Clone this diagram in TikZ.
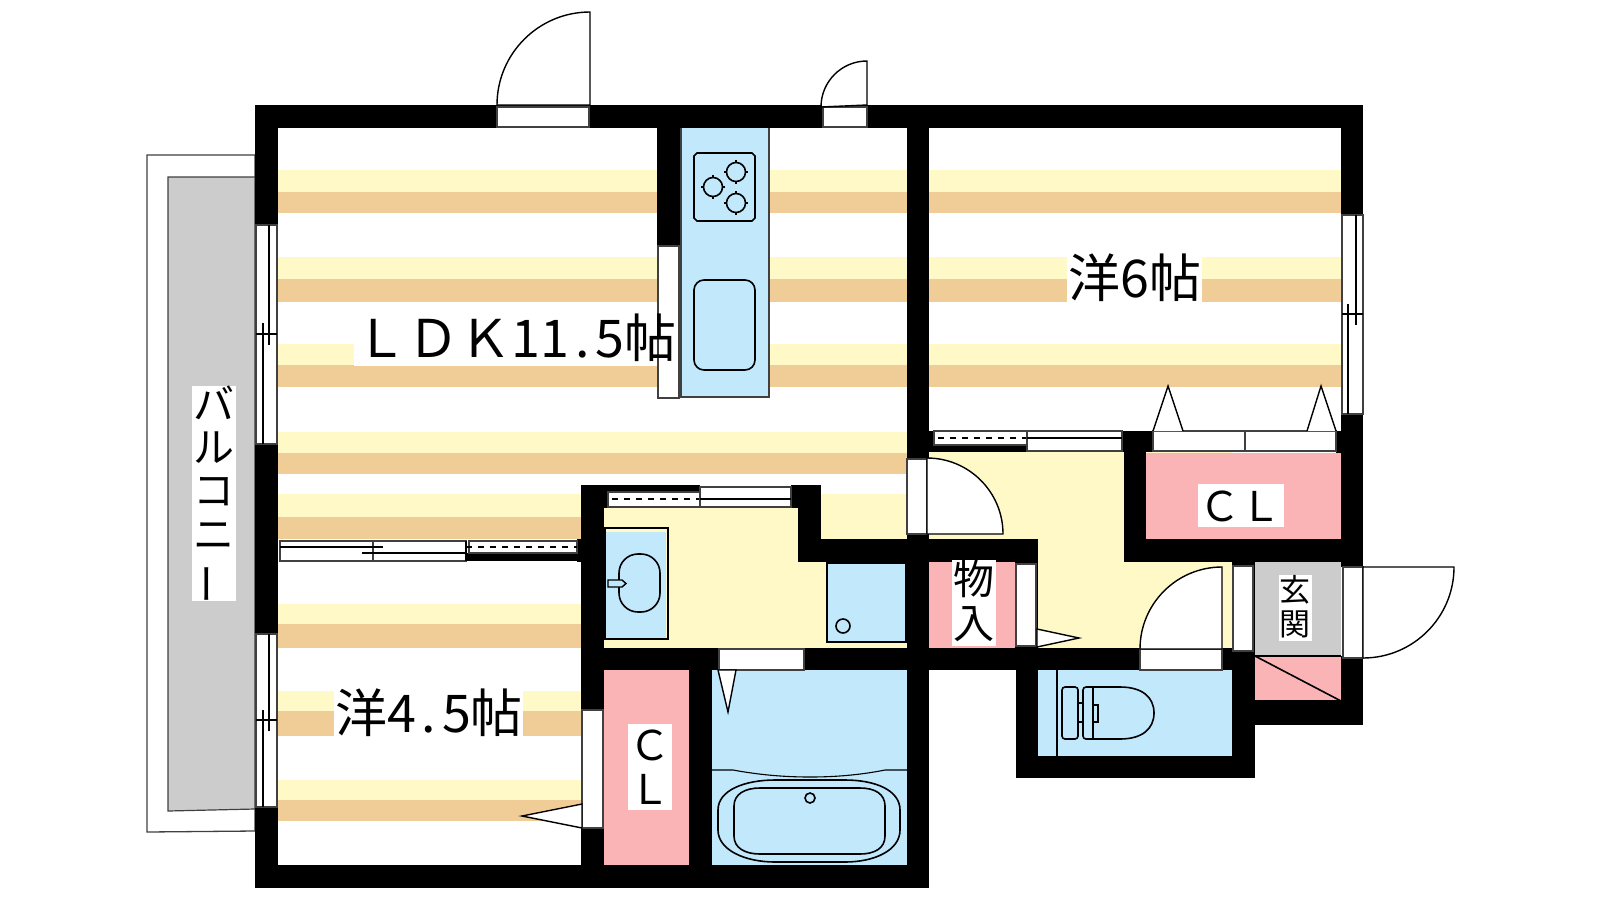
\documentclass[tikz,border=0pt]{standalone}
\usepackage{fontspec}
\newfontfamily\cjkfont{Noto Sans CJK JP}
\definecolor{floorlight}{HTML}{FFF9C8}
\definecolor{floordark}{HTML}{F0CC96}
\definecolor{wetblue}{HTML}{C2E8FB}
\definecolor{closetpink}{HTML}{FBB4B6}
\definecolor{slabgray}{HTML}{CCCCCC}
\newcommand{\burner}[2]{
\draw[railline] ({#1-12},#2) -- ({#1+12},#2);
\draw[railline] (#1,{#2-12}) -- (#1,{#2+12});
\draw[fixture,fill=wetblue] (#1,#2) circle (9.5);
}
\tikzset{
wall/.style={fill=black},
frame/.style={draw=black!75,fill=white,line width=0.65pt},
leaf/.style={draw=black,fill=white,line width=0.7pt},
fixture/.style={draw=black,line width=0.8pt},
railline/.style={draw=black,line width=0.55pt},
bigtext/.style={font=\cjkfont\fontsize{26pt}{30pt}\selectfont,inner sep=0pt},
midtext/.style={font=\cjkfont\fontsize{20.5pt}{21.7pt}\selectfont,inner sep=0pt,align=center},
smalltext/.style={font=\cjkfont\fontsize{15.5pt}{17pt}\selectfont,inner sep=0pt,align=center}
}
\begin{document}
\begin{tikzpicture}[x=0.5pt,y=-0.5pt]
\useasboundingbox (0,0) rectangle (1600,900);

%balcony
\draw[frame] (147,155) -- (255,155) -- (255,831) -- (147,832) -- cycle;
\draw[draw=black!75,fill=slabgray,line width=0.6pt] (168,177) -- (255,177) -- (255,809) -- (168,811) -- cycle;

%floor bands
\fill[floorlight] (278,170) rectangle (907,192);
\fill[floordark] (278,192) rectangle (907,213);
\fill[floorlight] (278,257) rectangle (907,279);
\fill[floordark] (278,279) rectangle (907,302);
\fill[floorlight] (278,344) rectangle (907,365);
\fill[floordark] (278,365) rectangle (907,387);
\fill[floorlight] (278,432) rectangle (907,453);
\fill[floordark] (278,453) rectangle (907,474);
\fill[floorlight] (278,494) rectangle (907,517);
\fill[floordark] (278,517) rectangle (907,539);

\fill[floorlight] (929,170) rectangle (1341,192);
\fill[floordark] (929,192) rectangle (1341,213);
\fill[floorlight] (929,257) rectangle (1341,279);
\fill[floordark] (929,279) rectangle (1341,302);
\fill[floorlight] (929,344) rectangle (1341,365);
\fill[floordark] (929,365) rectangle (1341,387);

\fill[floorlight] (278,604) rectangle (581,624);
\fill[floordark] (278,624) rectangle (581,648);
\fill[floorlight] (278,691) rectangle (581,711);
\fill[floordark] (278,711) rectangle (581,736);
\fill[floorlight] (278,780) rectangle (581,800);
\fill[floordark] (278,800) rectangle (581,821);

%white behind the room names
\fill[white] (354,310) rectangle (658,366);
\fill[white] (1067,250) rectangle (1202,303);
\fill[white] (334,686) rectangle (523,737);

%room fills
\fill[floorlight] (604,508) rectangle (907,648);
\fill[floorlight] (929,452) rectangle (1232,648);
\fill[closetpink] (1146,453) rectangle (1341,539);
\fill[closetpink] (929,562) rectangle (1016,648);
\fill[closetpink] (604,670) rectangle (689,865);
\fill[closetpink] (1255,656) rectangle (1341,700);
\fill[slabgray] (1255,562) rectangle (1341,656);
\fill[wetblue] (712,670) rectangle (907,865);
\fill[wetblue] (1038,670) rectangle (1232,756);

%walls
\fill[wall] (255,105) rectangle (1363,128);
\fill[wall] (255,128) rectangle (278,225);
\fill[wall] (255,444) rectangle (278,634);
\fill[wall] (255,807) rectangle (278,888);
\fill[wall] (255,865) rectangle (929,888);
\fill[wall] (1341,128) rectangle (1363,215);
\fill[wall] (1341,414) rectangle (1363,567);
\fill[wall] (1341,656) rectangle (1363,725);
\fill[wall] (1255,700) rectangle (1363,725);
\fill[wall] (907,128) rectangle (929,459);
\fill[wall] (907,534) rectangle (929,888);
\fill[wall] (657,128) rectangle (681,246);
\fill[wall] (929,431) rectangle (934,452);
\fill[wall] (934,445) rectangle (1027,452);
\fill[wall] (1122,431) rectangle (1153,452);
\fill[wall] (1124,452) rectangle (1146,562);
\fill[wall] (1124,539) rectangle (1363,562);
\fill[wall] (1336,431) rectangle (1341,453);
\fill[wall] (907,539) rectangle (1038,562);
\fill[wall] (1015,562) rectangle (1038,648);
\fill[wall] (581,648) rectangle (1232,670);
\fill[wall] (1016,670) rectangle (1038,778);
\fill[wall] (1016,756) rectangle (1255,778);
\fill[wall] (1232,562) rectangle (1255,778);
\fill[wall] (581,485) rectangle (604,888);
\fill[wall] (577,539) rectangle (581,562);
\fill[wall] (604,485) rectangle (608,508);
\fill[wall] (608,485) rectangle (700,492);
\fill[wall] (791,485) rectangle (821,508);
\fill[wall] (798,485) rectangle (821,562);
\fill[wall] (798,539) rectangle (907,562);
\fill[wall] (689,670) rectangle (712,865);
\fill[wall] (466,553) rectangle (577,561);

%windows
\draw[frame] (256,225) rectangle (277,444);
\draw[railline] (269,225) -- (269,345);
\draw[railline] (263,323) -- (263,444);
\draw[railline] (256,334) -- (277,334);

\draw[frame] (256,634) rectangle (277,807);
\draw[railline] (269,634) -- (269,731);
\draw[railline] (263,710) -- (263,807);
\draw[railline] (256,720) -- (277,720);

\draw[frame] (1342,215) rectangle (1363,414);
\draw[railline] (1356,215) -- (1356,325);
\draw[railline] (1348,304) -- (1348,414);
\draw[railline] (1342,314) -- (1363,314);

%sliding doors
\draw[frame] (280,541) rectangle (373,561);
\draw[frame] (373,541) rectangle (466,561);
\draw[railline] (280,547) -- (383,547);
\draw[railline] (362,553) -- (466,553);
\draw[frame] (469,541) rectangle (577,553);
\draw[railline] (466,541) -- (466,561);
\draw[railline,dashed] (466,547) -- (577,547);

\draw[frame] (608,492) rectangle (700,507);
\draw[railline,dashed] (612,499) -- (700,499);
\draw[frame] (700,487) rectangle (791,507);
\draw[railline] (700,499) -- (791,499);

\draw[frame] (934,431) rectangle (1027,445);
\draw[railline,dashed] (938,438) -- (1027,438);
\draw[frame] (1027,431) rectangle (1122,451);
\draw[railline] (1027,438) -- (1122,438);

%closet doors
\draw[frame] (1153,431) rectangle (1245,451);
\draw[frame] (1245,431) rectangle (1336,451);
\draw[leaf] (1153,431) -- (1168,386) -- (1183,431);
\draw[leaf] (1307,431) -- (1321,386) -- (1336,431);

\draw[frame] (1016,564) rectangle (1036,646);
\draw[leaf] (1037,629) -- (1079,638) -- (1037,647) -- cycle;

\draw[frame] (582,710) rectangle (603,828);
\draw[leaf] (582,804) -- (522,816) -- (582,828) -- cycle;

\draw[frame] (719,649) rectangle (804,670);
\draw[leaf] (718,670) -- (728,712) -- (736,670) -- cycle;

%hinged doors
\draw[frame] (497,107) rectangle (589,127);
\draw[leaf] (590,105) -- (590,12) arc (270:180:93) -- cycle;

\draw[frame] (823,107) rectangle (867,127);
\draw[leaf] (867,105) -- (867,61) arc (270:180:46) -- cycle;

\draw[frame] (907,459) rectangle (927,534);
\draw[leaf] (927,534) -- (1003,534) arc (0:-90:76) -- cycle;

\draw[frame] (1140,649) rectangle (1222,670);
\draw[leaf] (1222,649) -- (1222,567) arc (270:180:82) -- cycle;

\draw[frame] (1233,566) rectangle (1253,651);

\draw[frame] (1343,567) rectangle (1363,658);
\draw[leaf] (1363,567) -- (1454,567) arc (0:90:91) -- cycle;

%kitchen
\fill[wetblue] (681,128) rectangle (769,397);
\draw[frame,fill=none] (681,128) -- (681,397) -- (769,397) -- (769,128);
\draw[frame] (658,246) rectangle (679,398);
\draw[fixture] (697,153) -- (752,153) -- (755,156) -- (755,218) -- (752,221) -- (697,221) -- (694,218) -- (694,156) -- cycle;
\burner{736}{172}
\burner{713}{187}
\burner{736}{203}
\draw[fixture,rounded corners=5pt] (694,280) rectangle (755,370);

%washroom
\fill[wetblue] (605,532) rectangle (666,638);
\draw[draw=black,line width=0.7pt] (605,528) rectangle (668,639);
\draw[fixture,rounded corners=9.5pt] (619,554) rectangle (660,612);
\draw[draw=black,fill=wetblue,line width=0.7pt] (608,580) -- (622,580) -- (626,583.5) -- (622,587) -- (608,587) -- cycle;
\draw[draw=black,fill=wetblue,line width=0.7pt] (827,563) rectangle (906,642);
\draw[fixture] (843,626) circle (7);

%bath
\draw[railline] (712,770) -- (733,770) .. controls (760,775) and (785,777) .. (810,777) .. controls (835,777) and (860,775) .. (885,770) -- (907,770);
\draw[fixture] (718,810) .. controls (718,790) and (745,780) .. (775,780) -- (845,780) .. controls (875,780) and (900,790) .. (900,810) -- (900,830) .. controls (900,850) and (875,862) .. (845,862) -- (775,862) .. controls (745,862) and (718,850) .. (718,830) -- cycle;
\draw[fixture] (734,806) .. controls (734,794) and (745,788) .. (760,788) -- (860,788) .. controls (875,788) and (885,794) .. (885,806) -- (885,836) .. controls (885,848) and (875,854) .. (860,854) -- (760,854) .. controls (745,854) and (734,848) .. (734,836) -- cycle;
\draw[fixture] (810,798) circle (5);

%toilet
\draw[railline] (1057,670) -- (1057,756);
\draw[fixture,rounded corners=1.5pt] (1062,687) rectangle (1078,739);
\draw[railline] (1078,703) -- (1083,703);
\draw[railline] (1078,722) -- (1083,722);
\draw[railline] (1093,687) -- (1093,739);
\draw[railline] (1093,705) -- (1098,705) -- (1098,722) -- (1093,722);
\draw[fixture,rounded corners=1.5pt] (1093,687) -- (1083,687) -- (1083,739) -- (1093,739);
\draw[fixture] (1093,687) -- (1120,687) .. controls (1142,687) and (1154,697) .. (1154,713) .. controls (1154,729) and (1142,739) .. (1120,739) -- (1093,739);

%entry
\draw[fixture] (1255,656) -- (1341,656);
\draw[fixture] (1255,656) -- (1341,701);

%names
\fill[white] (192,386) rectangle (236,601);
\node[midtext] (balcony) at (214,495) {バ\\ル\\コ\\ニ\\\rotatebox[origin=c]{90}{ー}};
\node[bigtext] (ldk) at (516,338) {ＬＤＫ11\makebox[13pt]{.}5帖};
\node[bigtext] (yo6) at (1135,278) {洋6帖};
\node[bigtext] (yo45) at (429,713) {洋4\makebox[13pt]{.}5帖};
\fill[white] (1198,484) rectangle (1284,527);
\node[midtext] (clupper) at (1240,506) {ＣＬ};
\fill[white] (628,724) rectangle (672,810);
\node[midtext] (cllower) at (650,767) {Ｃ\\Ｌ};
\fill[white] (952,560) rectangle (996,646);
\node[midtext] (storage) at (974,601) {物\\入};
\fill[white] (1279,575) rectangle (1312,641);
\node[smalltext] (genkan) at (1295,607) {玄\\関};
\end{tikzpicture}
\end{document}
